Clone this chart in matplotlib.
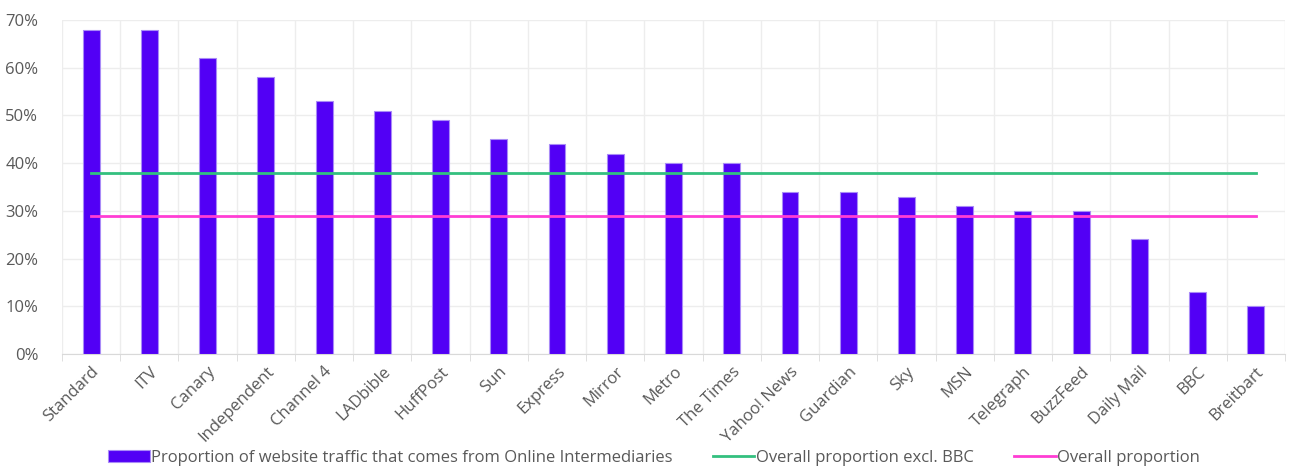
import numpy as np
import matplotlib.pyplot as plt
from matplotlib.ticker import PercentFormatter, FixedLocator

plt.rcParams['font.family'] = ['Open Sans', 'DejaVu Sans']

sites = ['Standard', 'ITV', 'Canary', 'Independent', 'Channel 4', 'LADbible',
         'HuffPost', 'Sun', 'Express', 'Mirror', 'Metro', 'The Times',
         'Yahoo! News', 'Guardian', 'Sky', 'MSN', 'Telegraph', 'BuzzFeed',
         'Daily Mail', 'BBC', 'Breitbart']
traffic = [68, 68, 62, 58, 53, 51, 49, 45, 44, 42, 40, 40,
           34, 34, 33, 31, 30, 30, 24, 13, 10]
overall_excl_bbc = 38
overall = 29

x = np.arange(len(sites))

fig = plt.figure(figsize=(12.91, 4.68), dpi=100)
ax = fig.add_axes([62 / 1291, 1 - 354 / 468, 1223 / 1291, 334 / 468])

bars = ax.bar(x, traffic, width=0.29, color='#5200F5', edgecolor='#A98BF7',
              linewidth=0.8, zorder=3,
              label='Proportion of website traffic that comes from Online Intermediaries')
l1, = ax.plot(x, [overall_excl_bbc] * len(x), color='#33C07F', lw=2, zorder=4,
              label='Overall proportion excl. BBC')
l2, = ax.plot(x, [overall] * len(x), color='#FF3DD4', lw=2, zorder=4,
              label='Overall proportion')

ax.set_xlim(-0.5, len(sites) - 0.5)
ax.set_ylim(0, 70)
ax.yaxis.set_major_formatter(PercentFormatter(decimals=0))
ax.set_yticks(range(0, 71, 10))

ax.set_xticks(x)
ax.set_xticklabels(sites, rotation=45, ha='right', rotation_mode='anchor')
ax.xaxis.set_minor_locator(FixedLocator(np.arange(-0.5, len(sites), 1)))
ax.tick_params(axis='x', which='major', length=0, pad=7, labelsize=12,
               labelcolor='#595959')
ax.tick_params(axis='x', which='minor', length=5, color='#D9D9D9')
ax.tick_params(axis='y', length=0, labelsize=12, labelcolor='#595959', pad=17)

ax.grid(axis='y', color='#EDEDED', lw=1, zorder=0)
ax.grid(axis='x', which='minor', color='#EDEDED', lw=1, zorder=0)
for s in ['top', 'right', 'left']:
    ax.spines[s].set_visible(False)
ax.spines['bottom'].set_color('#D9D9D9')

fig.legend(handles=[bars, l1, l2], loc='center',
           bbox_to_anchor=(654 / 1291, 1 - 458 / 468), ncol=3,
           frameon=False, fontsize=12, labelcolor='#595959',
           handlelength=2.5, handletextpad=0.1, columnspacing=2.4)

fig.savefig('out.png', dpi=100)
